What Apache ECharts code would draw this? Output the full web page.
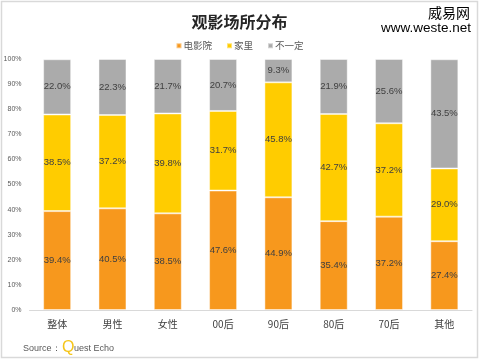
<!DOCTYPE html>
<html>
<head>
<meta charset="utf-8">
<script src="https://cdn.jsdelivr.net/npm/echarts@6/dist/echarts.min.js"></script>
<style>
html,body{margin:0;padding:0;background:#fff;}
#c{width:479px;height:359px;}
</style>
</head>
<body>
<div id="c"></div>
<script>
var categories = ['整体', '男性', '女性', '00后', '90后', '80后', '70后', '其他'];
var cinema = [39.4, 40.5, 38.5, 47.6, 44.9, 35.4, 37.2, 27.4];
var home = [38.5, 37.2, 39.8, 31.7, 45.8, 42.7, 37.2, 29.0];
var unsure = [22.0, 22.3, 21.7, 20.7, 9.3, 21.9, 25.6, 43.5];
var seriesNames = ['电影院', '家里', '不一定'];
var yTicks = [0, 10, 20, 30, 40, 50, 60, 70, 80, 90, 100];

var chart = echarts.init(document.getElementById('c'), null, {renderer: 'canvas'});
var labelStyle = {
  show: true,
  position: 'inside',
  fontSize: 9.5,
  fontFamily: 'Liberation Sans, Arial, sans-serif',
  color: '#404040',
  formatter: function (p) { return p.value.toFixed(1) + '%'; }
};
function mk(name, data, color) {
  return {
    name: name,
    type: 'bar',
    stack: 'total',
    data: data,
    barWidth: 28,
    itemStyle: {color: color, borderColor: 'rgba(255,255,255,0.45)', borderWidth: 1},
    label: labelStyle,
    emphasis: {disabled: true}
  };
}
chart.setOption({
  animation: false,
  backgroundColor: '#fff',
  title: {
    text: '观影场所分布',
    left: 'center',
    top: 9,
    textStyle: {fontSize: 16, fontWeight: 'bold', color: '#262626', fontFamily: 'Noto Sans CJK SC, sans-serif'}
  },
  legend: {
    data: seriesNames,
    top: 36,
    left: 'center',
    icon: 'rect',
    itemWidth: 5,
    itemHeight: 5,
    itemGap: 14,
    textStyle: {fontSize: 9.5, color: '#595959', fontFamily: 'Noto Sans CJK SC, sans-serif', padding: [0, 0, 0, -3]}
  },
  grid: {left: 29.5, right: 7, top: 59, bottom: 49, containLabel: false},
  xAxis: {
    type: 'category',
    data: categories,
    axisLine: {lineStyle: {color: '#d9d9d9'}},
    axisTick: {show: false},
    axisLabel: {fontSize: 10, color: '#404040', margin: 9, fontFamily: 'Noto Sans CJK SC, sans-serif'}
  },
  yAxis: {
    type: 'value',
    min: 0,
    max: 100,
    interval: 10,
    axisLine: {show: false},
    axisTick: {show: false},
    splitLine: {show: false},
    axisLabel: {
      fontSize: 7,
      color: '#595959',
      margin: 8,
      fontFamily: 'Liberation Sans, Arial, sans-serif',
      customValues: yTicks,
      formatter: function (v) { return v + '%'; }
    }
  },
  series: [
    mk(seriesNames[0], cinema, '#F7981D'),
    mk(seriesNames[1], home, '#FFCC00'),
    mk(seriesNames[2], unsure, '#ABABAB')
  ],
  graphic: [
    {type: 'rect', shape: {x: 1.5, y: 1.5, width: 476, height: 356}, style: {fill: 'none', stroke: '#d9d9d9', lineWidth: 1.5}, silent: true},
    {type: 'text', right: 9, top: 6, style: {text: '威易网', fontSize: 14, fill: '#000', fontFamily: 'Noto Sans CJK SC, sans-serif'}},
    {type: 'text', right: 8, top: 21, style: {text: 'www.weste.net', fontSize: 13.5, fill: '#000', fontFamily: 'Liberation Sans, Arial, sans-serif'}},
    {type: 'text', left: 23, top: 344, style: {text: 'Source：', fontSize: 9, fill: '#595959', fontFamily: 'Liberation Sans, Arial, sans-serif'}},
    {type: 'text', left: 62, top: 340, style: {text: 'Q', fontSize: 16, fill: '#F5C518', fontFamily: 'Liberation Sans, Arial, sans-serif'}},
    {type: 'text', left: 74, top: 344, style: {text: 'uest Echo', fontSize: 9, fill: '#595959', fontFamily: 'Liberation Sans, Arial, sans-serif'}}
  ]
});
</script>
</body>
</html>
